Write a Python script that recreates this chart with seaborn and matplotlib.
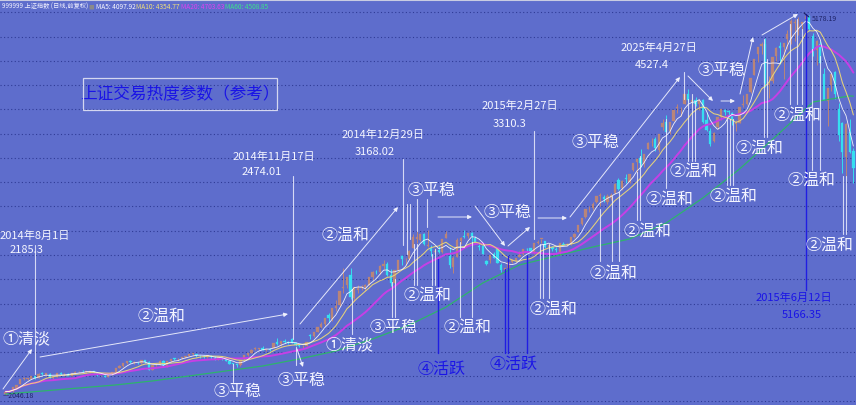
import numpy as np
import pandas as pd
import matplotlib
matplotlib.use("Agg")
import matplotlib.pyplot as plt
from matplotlib.patches import Rectangle
import seaborn as sns

# ---------------- data (Shanghai Composite, daily, 2014-07-22 .. 2015-07-02) ----------------
opens = [2057, 2072, 2077, 2106, 2134, 2180, 2182, 2180,
         2199, 2184, 2226, 2212, 2221, 2188, 2196, 2226, 2218, 2223, 2203, 2229, 2240, 2242, 2237, 2238, 2240, 2228, 2207, 2205, 2195,
         2217, 2233, 2267, 2285, 2308, 2326, 2314, 2314, 2311, 2332, 2316, 2255, 2290, 2296, 2330, 2283, 2324, 2345, 2342, 2350, 2358,
         2369, 2384, 2382, 2370, 2366, 2359, 2368, 2355, 2340, 2355, 2340, 2325, 2303, 2300, 2290, 2340, 2372, 2392,
         2424, 2428, 2430, 2418, 2422, 2430, 2480, 2463, 2494, 2484, 2510, 2475, 2452, 2447, 2452, 2535, 2532, 2567, 2607, 2634,
         2703, 2670, 2766, 2791, 2931, 2951, 3039, 2845, 2915, 2932, 2939, 2956, 3017, 3059, 3063, 3110, 3129, 3037, 2968, 3080, 3195, 3163, 3167,
         3258, 3331, 3327, 3372, 3277, 3258, 3223, 3242, 3223, 3343, 3189, 3102, 3180, 3318, 3357, 3356, 3381, 3338, 3273, 3273,
         3148, 3156, 3212, 3252, 3120, 3074, 3090, 3145, 3152, 3187, 3207, 3251, 3257, 3220, 3300,
         3332, 3317, 3264, 3264, 3248, 3224, 3289, 3288, 3294, 3350, 3391, 3458, 3511, 3577, 3589, 3640, 3690, 3681, 3636, 3672, 3710, 3822,
         3750, 3827, 3803, 3899, 3967, 4001, 3946, 4073, 4129, 4155, 4068, 4259, 4299, 4221, 4305, 4412, 4394, 4441, 4527, 4460, 4480,
         4441, 4476, 4309, 4223, 4141, 4257, 4340, 4392, 4381, 4371, 4277, 4285, 4434, 4446, 4541, 4680, 4853, 4925, 4943, 4603,
         4633, 4844, 4924, 4912, 4981, 5045, 5114, 5049, 5101, 5143, 5174, 5005, 4890, 4942, 4689, 4471, 4604, 4711, 4400, 4289, 4006,
         4214, 4058]

highs = [2077, 2084, 2110, 2130, 2178, 2193, 2189, 2203,
         2205, 2225, 2234, 2225, 2224, 2197, 2229, 2233, 2228, 2225, 2227, 2242, 2248, 2251, 2244, 2246, 2243, 2232, 2214, 2212, 2219,
         2237, 2267, 2293, 2310, 2327, 2334, 2323, 2322, 2332, 2335, 2323, 2296, 2300, 2333, 2333, 2326, 2346, 2355, 2350, 2362, 2367,
         2384, 2391, 2388, 2375, 2379, 2377, 2374, 2369, 2358, 2360, 2352, 2334, 2312, 2301, 2337, 2374, 2392, 2423,
         2440, 2435, 2447, 2429, 2430, 2477, 2514, 2495, 2508, 2495, 2516, 2482, 2458, 2458, 2487, 2545, 2568, 2604, 2645, 2683,
         2718, 2764, 2830, 2900, 3091, 3020, 3091, 2940, 2952, 2956, 2958, 3022, 3067, 3078, 3116, 3157, 3144, 3082, 3076, 3157, 3203, 3173, 3239,
         3370, 3395, 3374, 3380, 3404, 3286, 3260, 3275, 3336, 3400, 3262, 3190, 3337, 3345, 3406, 3384, 3391, 3359, 3288, 3288,
         3161, 3204, 3228, 3260, 3136, 3095, 3142, 3164, 3179, 3230, 3247, 3255, 3260, 3299, 3324,
         3336, 3317, 3286, 3273, 3267, 3303, 3305, 3303, 3350, 3378, 3449, 3503, 3577, 3600, 3633, 3688, 3715, 3695, 3700, 3711, 3795, 3835,
         3817, 3866, 3865, 3961, 4000, 4070, 4035, 4128, 4168, 4175, 4195, 4317, 4356, 4294, 4398, 4444, 4418, 4529, 4572, 4499, 4504,
         4488, 4489, 4376, 4247, 4214, 4338, 4401, 4402, 4399, 4378, 4309, 4418, 4521, 4530, 4658, 4814, 4911, 4958, 4986, 4673,
         4829, 4911, 4952, 4948, 5051, 5147, 5147, 5164, 5122, 5178.19, 5176, 5030, 4968, 4966, 4744, 4577, 4691, 4720, 4456, 4297, 4287,
         4317, 4080]

lows = [2046.18, 2068, 2075, 2100, 2133, 2172, 2170, 2177,
        2175, 2183, 2212, 2200, 2187, 2178, 2196, 2214, 2206, 2201, 2200, 2225, 2233, 2234, 2228, 2230, 2224, 2205, 2200, 2193, 2195,
        2212, 2231, 2265, 2281, 2302, 2307, 2303, 2301, 2305, 2310, 2255, 2250, 2282, 2294, 2289, 2280, 2318, 2336, 2336, 2344, 2352,
        2364, 2376, 2361, 2352, 2349, 2353, 2346, 2338, 2336, 2337, 2326, 2300, 2297, 2275, 2289, 2337, 2366, 2390,
        2415, 2417, 2415, 2410, 2411, 2430, 2455, 2453, 2475, 2467, 2471, 2454, 2440, 2437, 2447, 2510, 2526, 2565, 2597, 2612,
        2650, 2660, 2736, 2777, 2883, 2932, 2834, 2823, 2886, 2914, 2902, 2950, 2991, 3043, 3040, 3086, 3025, 2948, 2957, 3066, 3116, 3117, 3160,
        3254, 3303, 3312, 3285, 3267, 3195, 3208, 3214, 3213, 3341, 3095, 3055, 3180, 3287, 3340, 3338, 3290, 3293, 3240, 3209,
        3116, 3132, 3174, 3132, 3064, 3049, 3085, 3138, 3141, 3182, 3197, 3235, 3222, 3208, 3291,
        3298, 3260, 3250, 3233, 3226, 3203, 3279, 3274, 3282, 3341, 3386, 3450, 3505, 3556, 3569, 3626, 3600, 3638, 3618, 3657, 3703, 3733,
        3739, 3794, 3790, 3890, 3876, 3928, 3925, 4073, 4102, 4055, 4050, 4230, 4214, 4198, 4305, 4373, 4344, 4441, 4461, 4424, 4432,
        4398, 4289, 4222, 4096, 4128, 4240, 4312, 4353, 4341, 4274, 4221, 4285, 4417, 4436, 4532, 4680, 4792, 4859, 4585, 4496,
        4616, 4803, 4776, 4647, 4896, 4943, 4965, 5011, 5051, 5103, 5048, 4842, 4767, 4780, 4476, 4265, 4552, 4483, 4140, 3876, 3847,
        4037, 3796]

closes = [2075, 2076, 2108, 2126, 2178, 2183, 2182, 2201,
          2185.3, 2223, 2217, 2224, 2188, 2194, 2227, 2221, 2223, 2206, 2226, 2239, 2245, 2240, 2241, 2240, 2229, 2207, 2207, 2195, 2217,
          2235, 2266, 2288, 2306, 2326, 2319, 2316, 2309, 2331, 2315, 2255, 2291, 2296, 2329, 2290, 2323, 2345, 2344, 2347, 2357, 2364,
          2382, 2389, 2374, 2366, 2359, 2373, 2357, 2341, 2356, 2339, 2327, 2302, 2302, 2290, 2337, 2373, 2391, 2420,
          2430, 2430, 2420, 2425, 2418, 2474, 2469, 2494, 2485, 2478, 2474.01, 2456, 2450, 2452, 2487, 2532, 2567, 2604, 2630, 2683,
          2680, 2763, 2779, 2900, 2938, 3020, 2857, 2940, 2925, 2938, 2953, 3021, 3061, 3057, 3108, 3128, 3032, 2968, 3073, 3157, 3168.02, 3166, 3235,
          3351, 3352, 3374, 3294, 3286, 3229, 3235, 3222, 3336, 3376, 3116, 3173, 3324, 3343, 3351, 3383, 3353, 3305, 3263, 3210,
          3129, 3204, 3175, 3136, 3076, 3095, 3142, 3157, 3173, 3203, 3247, 3247, 3229, 3298, 3310.3,
          3336, 3264, 3280, 3248, 3241, 3302, 3286, 3291, 3349, 3372, 3449, 3503, 3577, 3582, 3617, 3688, 3691, 3661, 3683, 3691, 3787, 3748,
          3811, 3826, 3864, 3961, 3995, 3958, 4035, 4122, 4135, 4085, 4195, 4287, 4217, 4294, 4398, 4415, 4394, 4527.4, 4476, 4476, 4442,
          4480, 4298, 4229, 4112, 4206, 4334, 4401, 4376, 4378, 4309, 4284, 4418, 4446, 4530, 4658, 4814, 4911, 4941, 4620, 4612,
          4828, 4910, 4910, 4947, 5023, 5131, 5114, 5106, 5121, 5166.35, 5062, 4887, 4967, 4785, 4478, 4577, 4691, 4528, 4193, 4053, 4277,
          4053, 3913]

# MA60 (every 10th bar + last bar)
ma60_idx = [0, 10, 20, 30, 40, 50, 60, 70, 80, 90, 100, 110, 120, 130, 140, 150, 160, 170, 180, 190, 200, 210, 220, 230, 231]
ma60_val = [2054, 2079, 2104, 2129, 2162, 2203, 2244, 2285, 2343, 2409, 2508, 2623, 2771, 2969, 3118, 3192, 3266, 3332,
            3464, 3670, 3909, 4181, 4461, 4511, 4509]

header_texts = ["999999 上证指数 (日线,前复权)", "■", "MA5: 4097.92", "MA10: 4354.77", "MA20: 4703.63", "MA60: 4508.85"]

# ---------------- styling ----------------
sns.set_theme(style="white")
plt.rcParams['font.family'] = ['Noto Sans CJK SC', 'DejaVu Sans']
plt.rcParams['axes.unicode_minus'] = False

BG = '#5e6dcc'
UP = '#b98579'
DOWN = '#36dff0'
WHITE = '#f4f5ff'
BLUE = '#1a14e6'
W, H = 856, 406

fig = plt.figure(figsize=(W / 100, H / 100), dpi=100, facecolor=BG)
ax = fig.add_axes([0, 0, 1, 1])
ax.set_facecolor(BG)

n = min(len(opens), len(highs), len(lows), len(closes))
df = pd.DataFrame({'i': np.arange(n), 'o': opens[:n], 'h': highs[:n], 'l': lows[:n], 'c': closes[:n]})
df['ma5'] = df['c'].rolling(5, min_periods=1).mean()
df['ma10'] = df['c'].rolling(10, min_periods=1).mean()
df['ma20'] = df['c'].rolling(20, min_periods=1).mean()
ma60 = pd.DataFrame({'i': ma60_idx, 'v': ma60_val})

# axis mapping (pixel layout of the reference)
X0, DX = 5.6, 3.67
Y0, SC = 396.0, 0.12133
def px_to_x(xp):
    return (xp - X0) / DX
def py_to_v(yp):
    return 2046.18 + (Y0 - yp) / SC

# dotted horizontal grid
for gv in range(2000, 5400, 200):
    ax.axhline(gv, color='#2f3b96', lw=0.8, ls=(0, (1, 2.2)), zorder=0.5)

# candles
up = df['c'] >= df['o']
cols = np.where(up, UP, DOWN)
body_b = np.minimum(df['o'], df['c'])
body_h = np.maximum(np.abs(df['c'] - df['o']), 5)
ax.vlines(df['i'], df['l'], df['h'], colors=cols, lw=0.7, zorder=2)
ax.bar(df['i'], body_h, bottom=body_b, width=0.62, color=cols, edgecolor=cols, linewidth=0.2, zorder=2.2)

# moving averages
sns.lineplot(data=ma60, x='i', y='v', ax=ax, color='#2db46c', lw=0.9, legend=False, zorder=3)
sns.lineplot(data=df, x='i', y='ma20', ax=ax, color='#c63fe6', lw=1.4, legend=False, zorder=3)
sns.lineplot(data=df, x='i', y='ma10', ax=ax, color='#e6d27a', lw=0.75, legend=False, zorder=3.1)
sns.lineplot(data=df, x='i', y='ma5', ax=ax, color='#ffffff', lw=0.6, alpha=0.9, legend=False, zorder=3.2)
ax.set_xlabel('')
ax.set_ylabel('')
ax.set_xlim(px_to_x(0), px_to_x(W))
ax.set_ylim(py_to_v(H), py_to_v(0))
ax.set_xticks([])
ax.set_yticks([])
for s in ax.spines.values():
    s.set_visible(False)

# ---------------- annotations (pixel layout) ----------------
def F(xp, yp):
    return (xp / W, 1 - yp / H)

CJK = ['Noto Sans CJK SC', 'DejaVu Sans']

white_vlines = [
    (35, 246, 375), (293, 177, 340), (233, 365, 383), (296, 348, 366),
    (392, 283, 318), (395, 280, 318), (352, 290, 335),
    (403, 160, 246), (407, 205, 255), (410, 205, 240),
    (417, 200, 232), (427, 200, 228),
    (414, 245, 286), (417, 245, 286), (432, 255, 286), (435, 250, 286),
    (460, 243, 318), (472, 243, 318),
    (534, 132, 240),
    (540, 245, 299), (543, 245, 299), (549, 245, 299),
    (600, 210, 262), (612, 197, 262), (619, 193, 262),
    (637, 173, 221), (640, 157, 221),
    (666, 120, 189), (684, 73, 100),
    (688, 100, 162), (692, 95, 162), (695, 103, 162),
    (727, 120, 186), (730, 120, 186), (733, 120, 186),
    (764, 40, 138), (767, 60, 138),
    (790, 25, 105), (797, 20, 105), (802, 30, 105),
    (812, 50, 171), (820, 57, 171),
    (843, 177, 235), (846, 177, 235),
]
for xp, y1, y2 in white_vlines:
    a, b = F(xp, y1), F(xp, y2)
    ax.plot([a[0], b[0]], [a[1], b[1]], transform=fig.transFigure, color=WHITE, lw=0.8, alpha=0.8, zorder=5)

blue_vlines = [(438, 260, 354), (505, 270, 354), (508, 257, 354), (527, 257, 354), (806, 15, 291)]
for xp, y1, y2 in blue_vlines:
    a, b = F(xp, y1), F(xp, y2)
    ax.plot([a[0], b[0]], [a[1], b[1]], transform=fig.transFigure, color=BLUE, lw=1.0, alpha=0.9, zorder=5)

arrows = [
    ((3, 390), (32, 350)), ((40, 358), (288, 315)), ((300, 325), (398, 208)),
    ((297, 350), (303, 368)),
    ((438, 218), (472, 218)), ((475, 207), (505, 247)), ((508, 247), (530, 228)),
    ((538, 219), (567, 219)), ((570, 218), (680, 78)), ((688, 77), (713, 102)),
    ((721, 102), (735, 102)), ((740, 95), (753, 38)), ((762, 36), (798, 15)),
]
for (x1, y1), (x2, y2) in arrows:
    ax.annotate('', xy=F(x2, y2), xytext=F(x1, y1), xycoords='figure fraction', textcoords='figure fraction',
                arrowprops=dict(arrowstyle='-|>', color=WHITE, lw=0.7, alpha=0.9, mutation_scale=6,
                                shrinkA=0, shrinkB=0), zorder=5)

big_labels = [
    ('①清淡', 27, 339), ('②温和', 162, 316), ('③平稳', 237, 392), ('③平稳', 302, 381),
    ('①清淡', 350, 345), ('③平稳', 393, 328), ('②温和', 346, 235), ('②温和', 428, 295),
    ('②温和', 468, 327), ('②温和', 554, 309), ('③平稳', 431, 191), ('③平稳', 507, 213),
    ('③平稳', 596, 142), ('③平稳', 722, 71), ('②温和', 797, 115), ('②温和', 694, 171),
    ('②温和', 759, 148), ('②温和', 669, 199), ('②温和', 734, 196), ('②温和', 811, 180),
    ('②温和', 647, 231), ('②温和', 614, 273), ('②温和', 829, 245),
]
for s, xp, yp in big_labels:
    ax.text(*F(xp, yp), s, transform=fig.transFigure, ha='center', va='center', fontsize=11.5,
            color=WHITE, family=CJK, zorder=6)

for s, xp, yp in [('④活跃', 441, 370), ('④活跃', 514, 365)]:
    ax.text(*F(xp, yp), s, transform=fig.transFigure, ha='center', va='center', fontsize=11.5,
            color=BLUE, family=CJK, zorder=6)

date_labels = [
    ('2014年8月1日', 35, 236), ('2185.3', 26, 250),
    ('2014年11月17日', 274, 157), ('2474.01', 262, 172),
    ('2014年12月29日', 383, 135), ('3168.02', 375, 152),
    ('2015年2月27日', 520, 106), ('3310.3', 510, 124),
    ('2025年4月27日', 659, 48), ('4527.4', 652, 65),
]
for s, xp, yp in date_labels:
    ax.text(*F(xp, yp), s, transform=fig.transFigure, ha='center', va='center', fontsize=8,
            color=WHITE, family=CJK, zorder=6)
for s, xp, yp in [('2015年6月12日', 794, 298), ('5166.35', 802, 315)]:
    ax.text(*F(xp, yp), s, transform=fig.transFigure, ha='center', va='center', fontsize=8,
            color=BLUE, family=CJK, zorder=6)

# title box
fig.add_artist(Rectangle(F(83, 111), 194 / W, 32 / H, transform=fig.transFigure, fill=False,
                         edgecolor='#d4d7f0', lw=0.9, zorder=6))
ax.text(*F(180, 95), '上证交易热度参数（参考）', transform=fig.transFigure, ha='center', va='center',
        fontsize=12, color=BLUE, family=CJK, zorder=7)

# header row
header_x = [2, 88, 96, 136, 181, 225]
header_c = ['#f0f0ff', '#8a8a8a', '#f8f8ff', '#f0e07a', '#e040f0', '#3de38a']
header_fs = [4.5, 4.0, 4.7, 4.7, 4.7, 4.7]
for s, xp, c, fs in zip(header_texts, header_x, header_c, header_fs):
    ax.text(*F(xp, 7), s, transform=fig.transFigure, ha='left', va='center', fontsize=fs,
            color=c, family=CJK, zorder=7)
ax.plot([0, 1], [1 - 1 / H, 1 - 1 / H], transform=fig.transFigure, color='#c9cce2', lw=1.5, zorder=7)

# extreme value markers
ax.text(*F(3, 396), '—2046.18', transform=fig.transFigure, ha='left', va='center', fontsize=5,
        color='#1d2266', family=CJK, zorder=7)
ax.text(*F(812, 19), '5178.19', transform=fig.transFigure, ha='left', va='center', fontsize=5,
        color='#1d2266', family=CJK, zorder=7)
ax.plot(*zip(F(804, 14), F(809, 18)), transform=fig.transFigure, color='#1d2266', lw=0.8, zorder=7)

fig.savefig('out.png', dpi=100, facecolor=BG)
